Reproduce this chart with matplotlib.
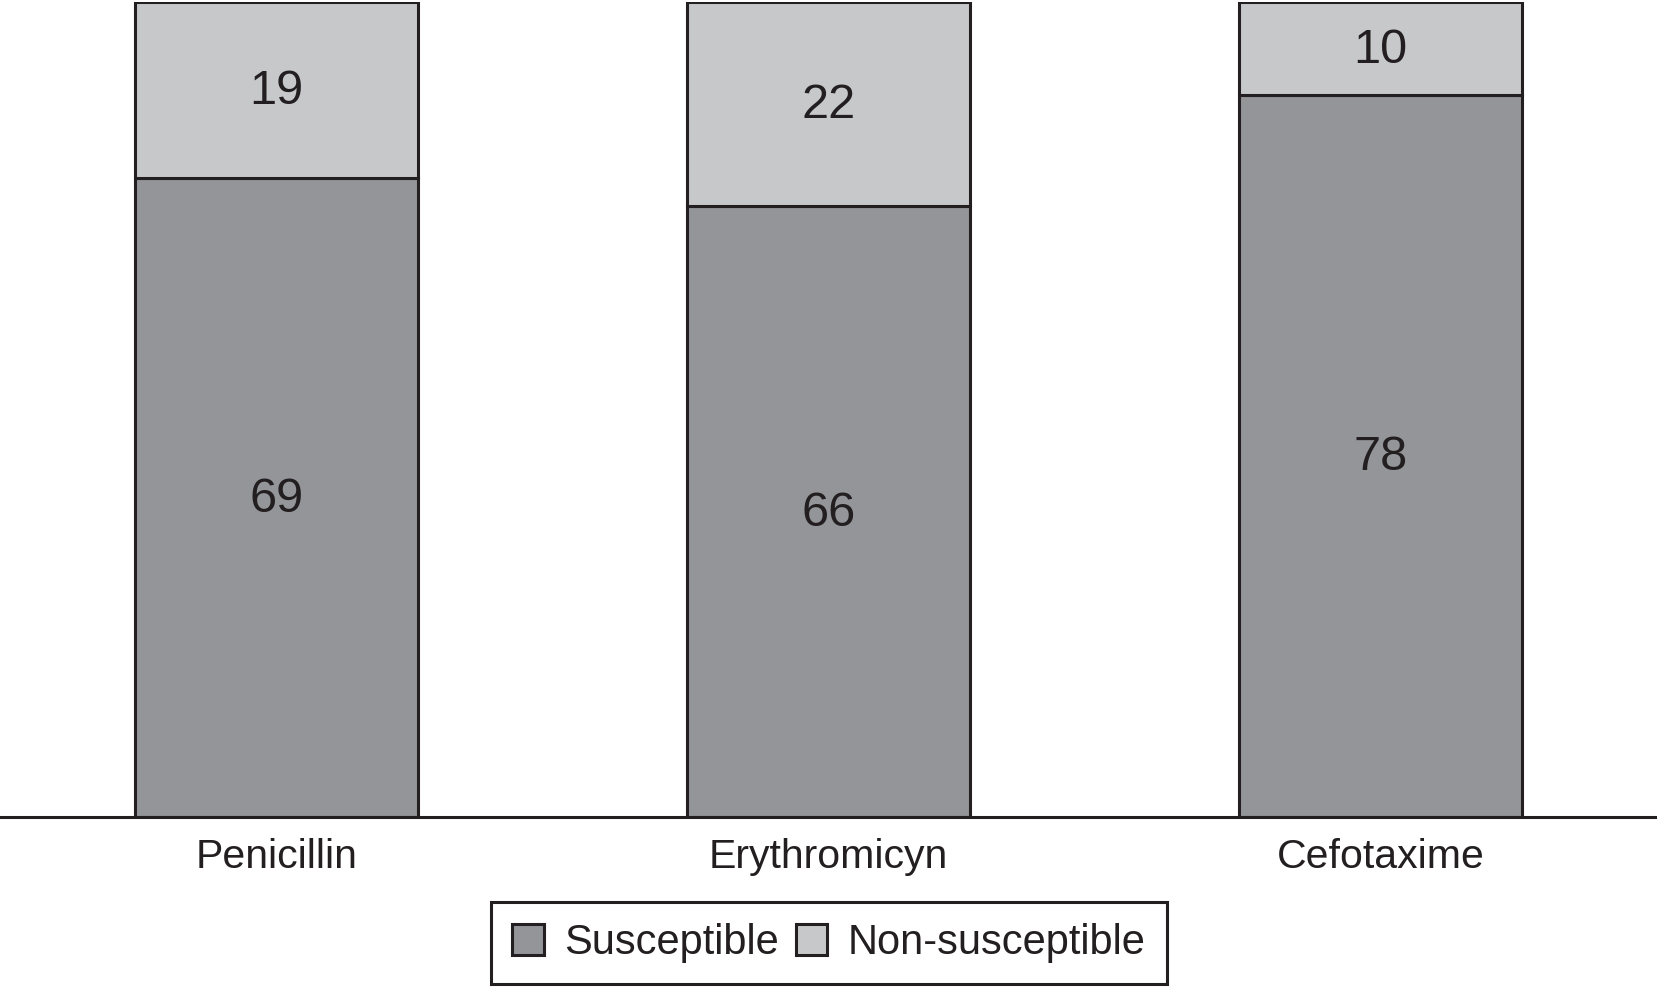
import numpy as np
import matplotlib.pyplot as plt

# Données
antibiotiques = ["Penicillin", "Erythromicyn", "Cefotaxime"]
susceptible = [69, 66, 78]
non_susceptible = [19, 22, 10]

plt.rcParams['font.family'] = ['Liberation Sans', 'DejaVu Sans']

DARK = "#939598"
LIGHT = "#c6c8ca"
EDGE = "#231f20"

fig = plt.figure(figsize=(16.58, 9.88), dpi=100)
ax = fig.add_axes([0.0, 0.1731, 1.0, 0.8249])

x = np.arange(len(antibiotiques))
w = 0.513
b1 = ax.bar(x, susceptible, w, color=DARK, edgecolor=EDGE, lw=2.2, label="Susceptible")
b2 = ax.bar(x, non_susceptible, w, bottom=susceptible, color=LIGHT, edgecolor=EDGE,
            lw=2.2, label="Non-susceptible")

# étiquettes au centre de chaque segment
for i in range(len(x)):
    ax.text(x[i], susceptible[i] / 2 - 0.2, str(susceptible[i]), ha='center', va='center',
            fontsize=35, color=EDGE)
    ax.text(x[i], susceptible[i] + non_susceptible[i] / 2 - 0.2, str(non_susceptible[i]),
            ha='center', va='center', fontsize=35, color=EDGE)

ax.set_xlim(-0.501, 2.503)
ax.set_ylim(0, 88)
ax.set_xticks(x)
ax.set_xticklabels(antibiotiques, fontsize=29.5, color=EDGE)
ax.tick_params(axis='x', length=0, pad=15)
ax.set_yticks([])
for s in ["top", "left", "right"]:
    ax.spines[s].set_visible(False)
ax.spines["bottom"].set_linewidth(2.2)
ax.spines["bottom"].set_color(EDGE)

leg = fig.legend(handles=[b1, b2], loc='center', bbox_to_anchor=(829 / 1658, 1 - 943 / 988),
                 ncol=2, fontsize=30, frameon=True, fancybox=False, framealpha=1,
                 edgecolor=EDGE, handlelength=0.75, handleheight=0.75, handletextpad=0.5,
                 columnspacing=0.4, borderpad=0.5)
leg.get_frame().set_linewidth(2.2)
for t in leg.get_texts():
    t.set_color(EDGE)

fig.savefig("out.png", dpi=100)
